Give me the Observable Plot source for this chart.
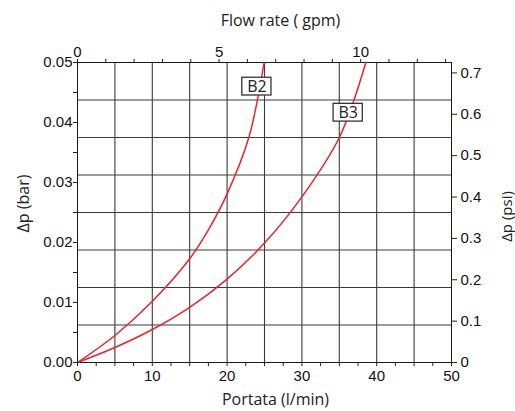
<!DOCTYPE html>
<html>
<head>
<meta charset="utf-8">
<script src="https://cdn.jsdelivr.net/npm/d3@7"></script>
<script src="https://cdn.jsdelivr.net/npm/@observablehq/plot@0.6"></script>
<style>
  html, body { margin: 0; padding: 0; background: #fff; }
  svg { display: block; }
</style>
</head>
<body>
<div id="chart"></div>
<script>
// ---- data ----
const b2Flow = [0, 5, 10, 15, 17.5, 20, 22.9, 24.95];                 // l/min
const b2Dp   = [0, 0.0045, 0.0102, 0.0173, 0.0221, 0.0281, 0.0375, 0.05]; // bar
const b3Flow = [0, 5, 10, 15, 20, 25, 30, 35, 38.55];
const b3Dp   = [0, 0.0025, 0.0055, 0.0092, 0.0139, 0.0199, 0.0276, 0.0375, 0.05];

const labelName = ["B2", "B3"];
const labelFlow = [23.98, 36.19];
const labelDp   = [0.04598, 0.04163];

// axis ticks
const lpmTicks  = [0, 2.5, 5, 7.5, 10, 12.5, 15, 17.5, 20, 22.5, 25, 27.5, 30, 32.5, 35, 37.5, 40, 42.5, 45, 47.5, 50];
const barTicks  = [0, 0.005, 0.01, 0.015, 0.02, 0.025, 0.03, 0.035, 0.04, 0.045, 0.05];
const gpmTicks  = [0, 1, 2, 3, 4, 5, 6, 7, 8, 9, 10, 11, 12, 13];
const psiTicks  = [0, 0.1, 0.2, 0.3, 0.4, 0.5, 0.6, 0.7];
const gridFlow  = [5, 10, 15, 20, 25, 30, 35, 40, 45];
const gridDp    = [0.00625, 0.0125, 0.01875, 0.025, 0.03125, 0.0375, 0.04375];

const LPM_PER_GPM = 3.78541;
const BAR_PER_PSI = 0.0689476;
const BOX_HALF_W = 1.95;    // l/min
const BOX_HALF_H = 0.00148; // bar

const curves = [
  ...b2Flow.map((q, i) => ({series: "B2", q, dp: b2Dp[i]})),
  ...b3Flow.map((q, i) => ({series: "B3", q, dp: b3Dp[i]}))
];
const labels = labelName.map((name, i) => ({name, q: labelFlow[i], dp: labelDp[i]}));

const titleFont = "Open Sans, Noto Sans, sans-serif";
const tickFont = "Liberation Sans, Arial, sans-serif";
const title = {fontFamily: titleFont, fontSize: 16, fill: "#222", textAnchor: "middle", lineAnchor: "middle"};

const chart = Plot.plot({
  width: 515,
  height: 411,
  marginLeft: 77,
  marginRight: 64,
  marginTop: 62,
  marginBottom: 49,
  style: {fontFamily: tickFont, fontSize: "15px", color: "#111", background: "#fff", overflow: "visible"},
  x: {domain: [0, 50], axis: null},
  y: {domain: [0, 0.05], axis: null},
  marks: [
    Plot.ruleX(gridFlow, {stroke: "#3a3a3a", strokeWidth: 1.1}),
    Plot.ruleY(gridDp, {stroke: "#3a3a3a", strokeWidth: 1.1}),
    Plot.frame({stroke: "#1a1a1a", strokeWidth: 1}),
    Plot.line(curves, {x: "q", y: "dp", z: "series", stroke: "#e8232b", strokeWidth: 1.5, curve: "catmull-rom"}),
    Plot.rect(labels, {x1: d => d.q - BOX_HALF_W, x2: d => d.q + BOX_HALF_W, y1: d => d.dp - BOX_HALF_H, y2: d => d.dp + BOX_HALF_H, fill: "#fff", stroke: "#333", strokeWidth: 1.3}),
    Plot.text(labels, {x: "q", y: "dp", text: "name", fontFamily: titleFont, fontSize: 16, fill: "#222", dy: 0.5}),
    // bottom axis (l/min)
    Plot.axisX(lpmTicks, {anchor: "bottom", tickSize: 4, tickPadding: 4, stroke: "#222", fontSize: 15,
      tickFormat: d => (d % 10 === 0 ? String(d) : ""), label: null}),
    // left axis (bar)
    Plot.axisY(barTicks, {anchor: "left", tickSize: 4, tickPadding: 1, stroke: "#222", fontSize: 15,
      tickFormat: d => (Math.round(d * 1000) % 10 === 0 ? d.toFixed(2) : ""), label: null}),
    // top axis (gpm)
    Plot.axisX(gpmTicks.map(g => g * LPM_PER_GPM), {anchor: "top", tickSize: 4, tickPadding: 2, stroke: "#222", fontSize: 15,
      tickFormat: d => { const g = Math.round(d / LPM_PER_GPM); return g % 5 === 0 ? String(g) : ""; }, label: null}),
    // right axis (psi)
    Plot.axisY(psiTicks.map(p => p * BAR_PER_PSI), {anchor: "right", tickSize: 5, tickPadding: 4, stroke: "#222", fontSize: 15,
      tickFormat: d => String(Math.round(d / BAR_PER_PSI * 10) / 10), label: null}),
    // axis titles
    Plot.text(["Flow rate ( gpm)"], {...title, frameAnchor: "top", dx: 16, dy: -42}),
    Plot.text(["Portata (l/min)"], {...title, frameAnchor: "bottom", dx: 11, dy: 37}),
    Plot.text(["Δp (bar)"], {...title, frameAnchor: "left", dx: -54, dy: -9, rotate: -90}),
    Plot.text(["Δp (psi)"], {...title, frameAnchor: "right", dx: 56, dy: 4, rotate: -90, fontSize: 15})
  ]
});
document.getElementById("chart").appendChild(chart);
</script>
</body>
</html>
